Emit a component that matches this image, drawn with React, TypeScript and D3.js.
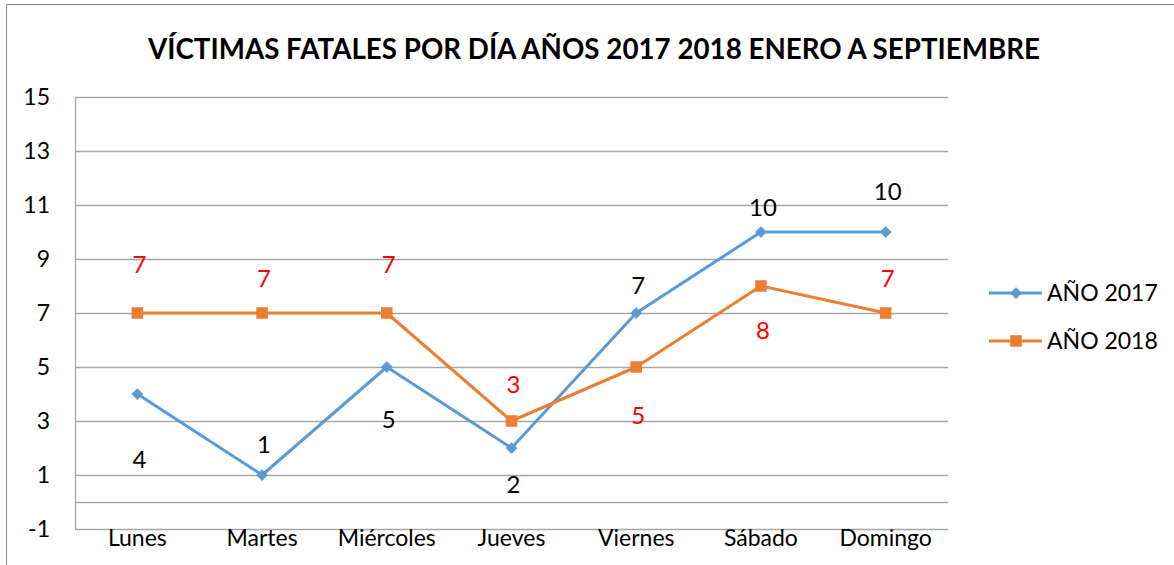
import React from "react";
import * as d3 from "d3";

const categories = ["Lunes", "Martes", "Miércoles", "Jueves", "Viernes", "Sábado", "Domingo"];
const values2017 = [4, 1, 5, 2, 7, 10, 10];
const values2018 = [7, 7, 7, 3, 5, 8, 7];
const yTicks = [-1, 1, 3, 5, 7, 9, 11, 13, 15];
const seriesNames = ["AÑO 2017", "AÑO 2018"];
const title = "VÍCTIMAS FATALES POR DÍA AÑOS 2017 2018 ENERO A SEPTIEMBRE";

// label vertical offsets (px from point to text center), manual placement as in the original
const labelDy2017 = [66, -30, 53, 37, -27, -24, -40];
const labelDy2018 = [-48, -34, -48, -36, 49, 45, -34];

const W = 1174;
const H = 565;
const FONT = "Lato, 'Open Sans', 'Noto Sans', sans-serif";
const BLUE = "#5B9BD5";
const ORANGE = "#ED7D31";
const GRID = "#A6A6A6";

export default function App() {
  const x = d3.scaleBand<string>().domain(categories).range([75, 948]);
  const y = d3.scaleLinear().domain([-1, 15]).range([529, 97]);
  const cx = (c: string) => (x(c) as number) + x.bandwidth() / 2;
  const line = d3
    .line<number>()
    .x((_, i) => cx(categories[i]))
    .y((d) => y(d));
  const diamond = d3.symbol().type(d3.symbolDiamond2).size(88)();
  const square = d3.symbol().type(d3.symbolSquare2).size(169)();

  return (
    <svg
      width={W}
      height={H}
      style={{ position: "absolute", left: 0, top: 0, background: "#fff" }}
      fontFamily={FONT}
    >
      <rect x={0} y={0} width={W} height={H} fill="#fff" />
      {/* chart border */}
      <path d={`M6.5,${H} V4.5 H${W}`} fill="none" stroke="#8C8C8C" strokeWidth={1} />

      <text
        x={594}
        y={59}
        textAnchor="middle"
        fontSize={28}
        fontWeight="bold"
        textLength={892}
        lengthAdjust="spacingAndGlyphs"
        fill="#000"
      >
        {title}
      </text>

      {/* gridlines */}
      {yTicks.map((t) => (
        <line key={t} x1={75} x2={948} y1={Math.round(y(t)) + 0.5} y2={Math.round(y(t)) + 0.5} stroke={GRID} strokeWidth={1.3} />
      ))}
      {/* horizontal axis at 0 */}
      <line x1={75} x2={948} y1={Math.round(y(0)) + 0.5} y2={Math.round(y(0)) + 0.5} stroke={GRID} strokeWidth={1.3} />
      {/* vertical axis */}
      <line x1={75.5} x2={75.5} y1={y(15)} y2={y(-1)} stroke={GRID} strokeWidth={1.3} />

      {/* y tick labels */}
      {yTicks.map((t) => (
        <text key={t} x={50} y={y(t)} dy="0.35em" textAnchor="end" fontSize={23} fill="#000">
          {t}
        </text>
      ))}
      {/* category labels */}
      {categories.map((c) => (
        <text key={c} x={cx(c)} y={546} textAnchor="middle" fontSize={23} fill="#000">
          {c}
        </text>
      ))}

      {/* series */}
      <path d={line(values2017) || ""} fill="none" stroke={BLUE} strokeWidth={3} strokeLinejoin="round" />
      <path d={line(values2018) || ""} fill="none" stroke={ORANGE} strokeWidth={3} strokeLinejoin="round" />
      {values2017.map((v, i) => (
        <path key={"m17" + i} d={diamond || ""} transform={`translate(${cx(categories[i])},${y(v)})`} fill={BLUE} />
      ))}
      {values2018.map((v, i) => (
        <path key={"m18" + i} d={square || ""} transform={`translate(${cx(categories[i])},${y(v)})`} fill={ORANGE} />
      ))}

      {/* data labels */}
      {values2017.map((v, i) => (
        <text key={"l17" + i} x={cx(categories[i]) + 2} y={y(v) + labelDy2017[i]} dy="0.35em" textAnchor="middle" fontSize={24} fill="#000">
          {v}
        </text>
      ))}
      {values2018.map((v, i) => (
        <text key={"l18" + i} x={cx(categories[i]) + 2} y={y(v) + labelDy2018[i]} dy="0.35em" textAnchor="middle" fontSize={24} fill="#FF0000">
          {v}
        </text>
      ))}

      {/* legend */}
      {seriesNames.map((s, i) => {
        const ly = 293 + i * 48;
        return (
          <g key={s}>
            <line x1={989} x2={1042} y1={ly} y2={ly} stroke={i === 0 ? BLUE : ORANGE} strokeWidth={3} />
            <path d={(i === 0 ? diamond : square) || ""} transform={`translate(1016,${ly})`} fill={i === 0 ? BLUE : ORANGE} />
            <text x={1047} y={ly} dy="0.35em" fontSize={23} fill="#000">
              {s}
            </text>
          </g>
        );
      })}
    </svg>
  );
}
